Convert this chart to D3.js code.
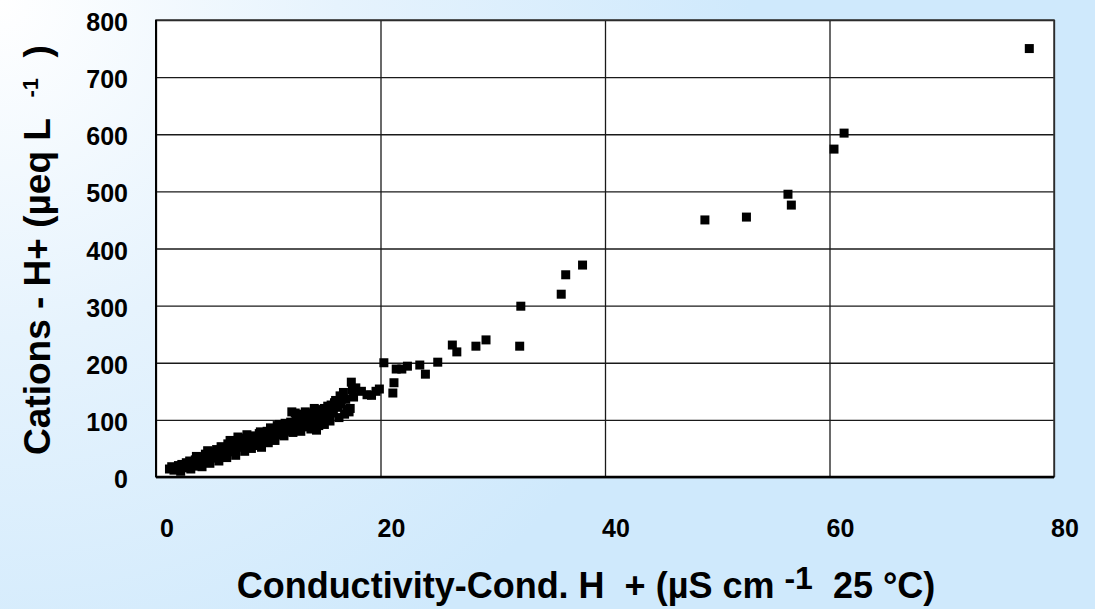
<!DOCTYPE html>
<html>
<head>
<meta charset="utf-8">
<script src="https://cdn.jsdelivr.net/npm/d3@7"></script>
<style>
  html, body { margin: 0; padding: 0; background: #fff; }
  svg { display: block; }
  text { font-family: "Liberation Sans", Arial, sans-serif; font-weight: bold; fill: #000; }
</style>
</head>
<body>
<svg id="chart" width="1095" height="609"></svg>
<script>
// ---- data ----
const xTicks = [0, 20, 40, 60, 80];
const yTicks = [0, 100, 200, 300, 400, 500, 600, 700, 800];

// conductivity minus H+ conductivity (µS cm-1 at 25 °C)
const conductivity = [
  1.2, 1.4, 1.6, 1.8, 2.0, 2.1, 2.3, 2.5, 2.7, 2.9, 3.0, 3.2, 3.4, 3.5, 3.7, 3.9, 4.0, 4.2, 4.4, 4.5,
  4.7, 4.9, 5.0, 5.2, 5.4, 5.5, 5.7, 5.9, 6.0, 6.2, 6.4, 6.5, 6.7, 6.9, 7.0, 7.2, 7.4, 7.6, 7.8, 8.0,
  8.2, 8.4, 8.6, 8.8, 9.0, 9.2, 9.4, 9.5, 9.7, 9.9, 10.1, 10.3, 10.5, 10.7, 10.9, 11.1, 11.3, 11.5, 11.6, 11.8,
  12.0, 12.1, 12.3, 12.5, 12.6, 12.8, 13.0, 13.2, 13.4, 13.5, 13.5, 13.7, 13.9, 14.0, 14.2, 14.4, 14.5, 14.6, 14.8, 15.0,
  15.0, 15.2, 15.4, 15.6, 15.8, 16.0, 16.2, 16.4, 16.5, 16.7, 16.9, 17.0, 17.2, 17.4, 17.5, 17.6, 17.8, 18.3, 18.8, 19.2,
  19.6, 19.9,
  2.2, 3.1, 4.1, 4.8, 5.6, 6.3, 7.1, 7.9, 8.5, 9.1, 10.0, 10.6, 11.4, 12.2, 12.9, 13.8, 14.3, 15.5, 16.3, 16.8, 17.3,
  3.6, 4.6, 5.8, 6.6, 7.3, 8.1, 9.3, 10.2, 10.8, 11.0, 12.4, 13.3, 14.1, 15.3, 15.9, 16.6,
  20.3, 21.1, 21.2, 21.4, 21.9, 22.4, 23.5, 24.0, 25.1, 26.4, 26.8, 28.5, 29.4, 32.4, 32.5, 36.1, 36.5, 38.0,
  48.9, 52.6, 56.3, 56.6, 60.4, 61.3, 77.8
];
// sum of cations minus H+ (µeq L-1)
const cations = [
  14, 18, 12, 16, 20, 14, 22, 18, 25, 16, 28, 22, 19, 30, 26, 35, 24, 32, 40, 28,
  36, 44, 33, 40, 48, 36, 45, 52, 40, 50, 58, 44, 55, 62, 48, 58, 66, 52, 62, 68,
  58, 64, 72, 60, 70, 76, 52, 66, 74, 80, 70, 78, 84, 74, 82, 90, 84, 94, 80, 88,
  96, 114, 86, 102, 92, 110, 98, 88, 106, 96, 88, 112, 100, 92, 108, 118, 90, 104, 112, 120,
  92, 106, 116, 126, 112, 134, 122, 142, 128, 148, 136, 118, 114, 166, 152, 140, 156, 150, 144, 143,
  150, 154,
  10, 14, 18, 24, 28, 34, 38, 45, 50, 55, 60, 64, 72, 78, 80, 84, 82, 98, 104, 110, 120,
  36, 46, 53, 64, 70, 74, 79, 86, 90, 92, 112, 114, 120, 124, 130, 138,
  200, 147, 165, 189, 189, 194, 196, 180, 201, 231, 219, 229, 240, 229, 299, 320, 354, 371,
  450, 455, 495, 476, 574, 602, 750
];

// ---- layout ----
const svg = d3.select("#chart");
const W = 1095, H = 609;
const plot = { left: 156, right: 1054, top: 20, bottom: 477 };

const defs = svg.append("defs");
const grad = defs.append("radialGradient")
  .attr("id", "bg").attr("gradientUnits", "userSpaceOnUse")
  .attr("cx", 0).attr("cy", 0).attr("r", 750);
grad.append("stop").attr("offset", 0).attr("stop-color", "#ffffff");
grad.append("stop").attr("offset", 0.45).attr("stop-color", "#e6f3fd");
grad.append("stop").attr("offset", 1).attr("stop-color", "#cfe9fc");
svg.append("rect").attr("width", W).attr("height", H).attr("fill", "url(#bg)");

const x = d3.scaleLinear().domain([0, 80]).range([plot.left, plot.right]);
const y = d3.scaleLinear().domain([0, 800]).range([plot.bottom, plot.top]);

// plot background
svg.append("rect")
  .attr("x", plot.left).attr("y", plot.top)
  .attr("width", plot.right - plot.left).attr("height", plot.bottom - plot.top)
  .attr("fill", "#ffffff");

// gridlines via axes
const gx = svg.append("g").attr("transform", `translate(0,${plot.bottom})`)
  .call(d3.axisBottom(x).tickValues(xTicks).tickSize(-(plot.bottom - plot.top)).tickFormat(""));
gx.select(".domain").remove();
gx.selectAll("line").attr("stroke", "#1a1a1a").attr("stroke-width", 1.3);

const gy = svg.append("g").attr("transform", `translate(${plot.left},0)`)
  .call(d3.axisLeft(y).tickValues(yTicks).tickSize(-(plot.right - plot.left)).tickFormat(""));
gy.select(".domain").remove();
gy.selectAll("line").attr("stroke", "#1a1a1a").attr("stroke-width", 1.3);

// frame
svg.append("rect")
  .attr("x", plot.left).attr("y", plot.top)
  .attr("width", plot.right - plot.left).attr("height", plot.bottom - plot.top)
  .attr("fill", "none").attr("stroke", "#333").attr("stroke-width", 1.5);
svg.append("line").attr("x1", plot.left).attr("x2", plot.right)
  .attr("y1", plot.bottom).attr("y2", plot.bottom).attr("stroke", "#000").attr("stroke-width", 2.5);
svg.append("line").attr("x1", plot.left).attr("x2", plot.left)
  .attr("y1", plot.top).attr("y2", plot.bottom).attr("stroke", "#000").attr("stroke-width", 2);

// tick labels
svg.append("g").selectAll("text").data(xTicks).join("text")
  .attr("x", d => x(d) + 11).attr("y", 537)
  .attr("text-anchor", "middle").attr("font-size", 25)
  .text(d => d);
svg.append("g").selectAll("text").data(yTicks).join("text")
  .attr("x", 128).attr("y", d => y(d) + 11)
  .attr("text-anchor", "end").attr("font-size", 25)
  .text(d => d);

// points
const pts = conductivity.map((c, i) => ({ c, v: cations[i] }));
const S = 9;
svg.append("g").selectAll("rect").data(pts).join("rect")
  .attr("x", d => x(d.c) - S / 2).attr("y", d => y(d.v) - S / 2)
  .attr("width", S).attr("height", S).attr("fill", "#000");

// axis titles
const xt = svg.append("text").attr("x", 586).attr("y", 598)
  .attr("text-anchor", "middle").attr("font-size", 36);
xt.append("tspan").text("Conductivity-Cond. H\u00a0 + (µS cm\u00a0");
xt.append("tspan").attr("dy", -9).attr("font-size", 32).text("-1");
xt.append("tspan").attr("dy", 9).text("\u00a0 25 °C)");

const yt = svg.append("text")
  .attr("transform", "translate(50,250) rotate(-90)")
  .attr("text-anchor", "middle").attr("font-size", 37);
yt.append("tspan").text("Cations - H+ (µeq L\u00a0 ");
yt.append("tspan").attr("dy", -12).attr("font-size", 22).text("-1");
yt.append("tspan").attr("dy", 12).text("\u00a0 )");
</script>
</body>
</html>
